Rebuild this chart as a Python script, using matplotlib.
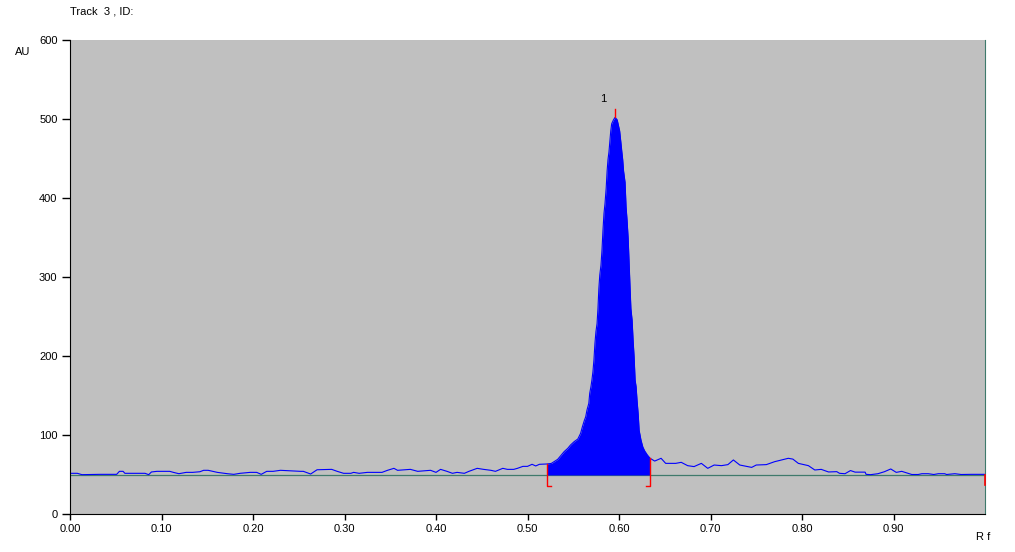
import numpy as np
import matplotlib
matplotlib.use("Agg")
import matplotlib.pyplot as plt

# densitogram, track 3
rf = [0.000, 0.008, 0.013, 0.033, 0.051, 0.054, 0.058, 0.060, 0.082, 0.086,
      0.089, 0.095, 0.109, 0.113, 0.119, 0.127, 0.134, 0.142, 0.146, 0.151,
      0.161, 0.172, 0.179, 0.186, 0.197, 0.204, 0.209, 0.215, 0.222, 0.230,
      0.252, 0.255, 0.263, 0.270, 0.286, 0.292, 0.299, 0.307, 0.310, 0.316,
      0.325, 0.341, 0.347, 0.354, 0.358, 0.372, 0.380, 0.394, 0.400, 0.405,
      0.412, 0.418, 0.423, 0.431, 0.436, 0.445, 0.452, 0.460, 0.465, 0.473,
      0.478, 0.485, 0.489, 0.495, 0.500, 0.505, 0.509, 0.513, 0.521, 0.526,
      0.529, 0.533, 0.537, 0.540, 0.544, 0.547, 0.551, 0.555, 0.558, 0.560,
      0.562, 0.5636, 0.565, 0.567, 0.568, 0.5693, 0.5704, 0.5715, 0.5726, 0.5737,
      0.5748, 0.576, 0.577, 0.578, 0.579, 0.5803, 0.5814, 0.5825, 0.5836, 0.5847,
      0.586, 0.587, 0.588, 0.589, 0.590, 0.591, 0.592, 0.594, 0.5957, 0.598,
      0.599, 0.6007, 0.602, 0.603, 0.604, 0.605, 0.6066, 0.6077, 0.6088, 0.610,
      0.611, 0.612, 0.613, 0.6143, 0.6154, 0.6165, 0.6176, 0.6187, 0.6197, 0.621,
      0.622, 0.624, 0.626, 0.628, 0.631, 0.634, 0.639, 0.646, 0.651, 0.662,
      0.668, 0.675, 0.682, 0.690, 0.697, 0.704, 0.712, 0.719, 0.725, 0.732,
      0.745, 0.750, 0.761, 0.770, 0.785, 0.790, 0.796, 0.807, 0.814, 0.821,
      0.829, 0.838, 0.841, 0.847, 0.853, 0.858, 0.869, 0.870, 0.875, 0.883,
      0.890, 0.897, 0.903, 0.909, 0.916, 0.920, 0.927, 0.931, 0.938, 0.944,
      0.949, 0.956, 0.958, 0.967, 0.974, 0.985, 1.000]
au = [51.5, 51.5, 49.8, 50.2, 50.2, 54.0, 54.0, 51.5, 51.5, 49.8,
      53.2, 54.0, 54.0, 52.7, 51.0, 52.7, 52.7, 53.5, 55.3, 55.3,
      52.7, 51.0, 50.2, 51.5, 52.7, 52.7, 50.2, 54.0, 54.0, 55.3,
      54.0, 54.0, 50.6, 56.0, 56.5, 54.0, 51.5, 51.5, 52.7, 51.5,
      52.7, 52.7, 55.3, 57.8, 55.3, 56.5, 54.0, 55.3, 52.7, 56.5,
      54.0, 51.5, 52.7, 51.5, 54.0, 57.8, 56.5, 55.3, 54.0, 57.8,
      56.5, 56.5, 57.8, 60.3, 60.3, 62.9, 60.8, 62.9, 63.3, 64.0,
      66.2, 69.2, 74.7, 78.9, 83.1, 87.3, 91.6, 94.9, 102.0, 110.5,
      118.0, 123.0, 131.6, 140.0, 152.8, 161.0, 169.6, 180.0, 195.0, 216.0,
      230.8, 241.0, 260.0, 285.7, 302.5, 315.0, 334.0, 359.5, 380.6, 393.0,
      412.7, 434.0, 449.0, 458.0, 471.0, 485.0, 494.0, 499.0, 502.0, 499.0,
      494.0, 485.0, 471.0, 459.0, 449.0, 434.0, 420.0, 389.0, 372.0, 349.0,
      319.0, 288.0, 260.0, 245.6, 220.0, 199.0, 169.6, 161.0, 144.0, 126.0,
      106.0, 93.7, 85.0, 80.0, 74.7, 70.5, 67.0, 70.5, 64.1, 64.1,
      65.4, 61.2, 60.0, 64.1, 57.8, 62.0, 61.2, 62.5, 68.4, 62.0,
      59.0, 62.0, 62.5, 66.2, 70.5, 69.5, 64.1, 61.2, 55.7, 56.5,
      53.2, 53.6, 51.5, 51.0, 55.0, 53.0, 53.0, 50.2, 49.8, 51.0,
      53.5, 57.0, 52.7, 54.0, 51.5, 50.0, 50.0, 51.0, 51.0, 50.0,
      51.0, 51.0, 50.0, 51.0, 50.0, 50.2, 50.2]

baseline = 49.4
peak_start, peak_end = 0.521, 0.634
peak_rf, peak_au = 0.5957, 502.0
peak_name = "1"
y_ticks = [0, 100, 200, 300, 400, 500, 600]
x_ticks = [0.0, 0.1, 0.2, 0.3, 0.4, 0.5, 0.6, 0.7, 0.8, 0.9]

rf = np.array(rf)
au = np.array(au)

plt.rcParams['font.family'] = ['Liberation Sans', 'DejaVu Sans']
fs = 8
teal = '#3f7a6c'

fig = plt.figure(figsize=(10.15, 5.52), dpi=100)
ax = fig.add_axes([70/1015, 38/552, 915/1015, 474/552])
ax.set_facecolor('#c0c0c0')

ax.axhline(baseline, color=teal, lw=0.9, zorder=1)
ax.plot(rf, au, color='#0000ff', lw=0.8, zorder=2)
inside = (rf >= peak_start) & (rf <= peak_end)
ax.fill_between(rf, baseline, au, where=inside, color='#0000ff', lw=0, zorder=2)

# integration markers
bot = 36.0
a_s = np.interp(peak_start, rf, au)
a_e = np.interp(peak_end, rf, au)
ax.plot([peak_start, peak_start, peak_start + 0.005], [a_s, bot, bot], color='red', lw=1, zorder=3)
ax.plot([peak_end - 0.005, peak_end, peak_end], [bot, bot, a_e], color='red', lw=1, zorder=3)
ax.plot([peak_rf, peak_rf], [peak_au, peak_au + 11], color='red', lw=1, zorder=3)
ax.plot([1.0, 1.0], [baseline, bot + 1], color='red', lw=1.2, zorder=4, clip_on=False)
ax.text(peak_rf - 0.013, peak_au + 23, peak_name, fontsize=fs, ha='center', va='center')

ax.set_xlim(0, 1.0)
ax.set_ylim(0, 600)
ax.set_yticks(y_ticks)
ax.set_yticklabels([str(v) for v in y_ticks])
ax.set_xticks(x_ticks)
ax.set_xticklabels(["%.2f" % v for v in x_ticks])
ax.tick_params(axis='y', length=6, width=1, pad=3, labelsize=fs)
ax.tick_params(axis='x', length=4, width=1, pad=3, labelsize=fs)

ax.spines['top'].set_visible(False)
ax.spines['right'].set_color(teal)
ax.spines['left'].set_color('black')
ax.spines['bottom'].set_color('black')

fig.text(70/1015, 1 - 12/552, "Track  3 , ID:", fontsize=fs, va='center', ha='left')
fig.text(15/1015, 1 - 52/552, "AU", fontsize=fs, va='center', ha='left')
fig.text(976/1015, 1 - 537/552, "R f", fontsize=fs, va='center', ha='left')

fig.savefig("out.png", dpi=100)
